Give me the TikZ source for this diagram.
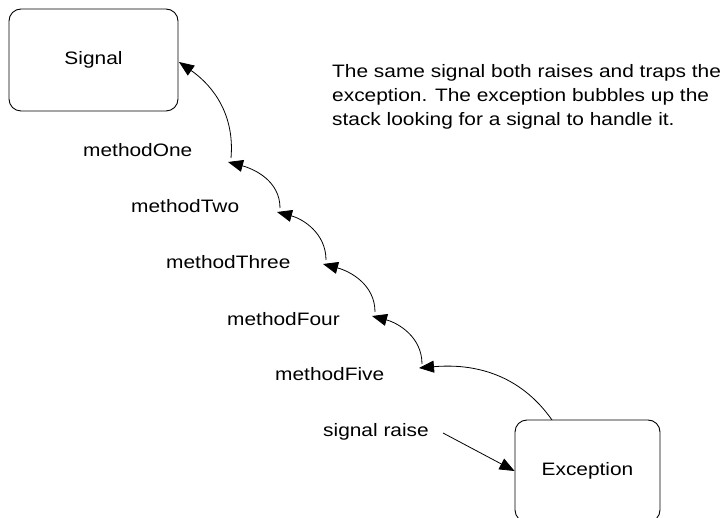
\documentclass[tikz,border=0pt]{standalone}
\usepackage{fontspec}
\setmainfont{Liberation Sans}[FakeStretch=1.16]
\usetikzlibrary{arrows.meta}
\begin{document}
\begin{tikzpicture}[x=1pt,y=1pt,
  box/.style={draw=black,line width=0.9pt,rounded corners=12pt,inner sep=0pt},
  lbl/.style={inner sep=0pt,anchor=base west},
  conn/.style={draw=black,line width=0.8pt,-{Triangle[length=15pt,width=12pt]}},
  every node/.style={font=\fontsize{18}{24}\selectfont}]
\path[use as bounding box,clip] (0,0) rectangle (723,517);
\fill[white] (0,0) rectangle (723,517);
% boxes
\node[box,minimum width=169pt,minimum height=102pt] (sig) at (93.5,457) {Signal};
\node[box,minimum width=145pt,minimum height=102pt] (exc) at (587.5,46) {Exception};
% labels
\node[lbl] (m1) at (83,360) {methodOne};
\node[lbl] (m2) at (131,304) {methodTwo};
\node[lbl] (m3) at (166,248) {methodThree};
\node[lbl] (m4) at (227,191) {methodFour};
\node[lbl] (m5) at (275,136) {methodFive};
\node[lbl] (raise) at (323,80) {signal raise};
\node[inner sep=0pt,anchor=north west,align=left] (note) at (332,453)
  {The same signal both raises and traps the\\exception. The exception bubbles up the\\stack looking for a signal to handle it.};
% arrow tips and starts
\coordinate (t1) at (179,455);
\coordinate (t2) at (228,355);
\coordinate (t3) at (277,305);
\coordinate (t4) at (323,253);
\coordinate (t5) at (372,201);
\coordinate (t6) at (419,149);
\coordinate (s1) at (231,359);
\coordinate (s2) at (280,309);
\coordinate (s3) at (326,257);
\coordinate (s4) at (375,205);
\coordinate (s5) at (422,153);
\coordinate (se) at (552,97);
\coordinate (rs) at (443,84);
% connectors
\draw[conn] (s1) to[out=85,in=-35] (t1);
\draw[conn] (s2) to[out=90,in=-15] (t2);
\draw[conn] (s3) to[out=90,in=-15] (t3);
\draw[conn] (s4) to[out=90,in=-15] (t4);
\draw[conn] (s5) to[out=90,in=-15] (t5);
\draw[conn] (se) to[out=125,in=5] (t6);
\draw[conn] (rs) -- (exc.west);
\end{tikzpicture}
\end{document}
